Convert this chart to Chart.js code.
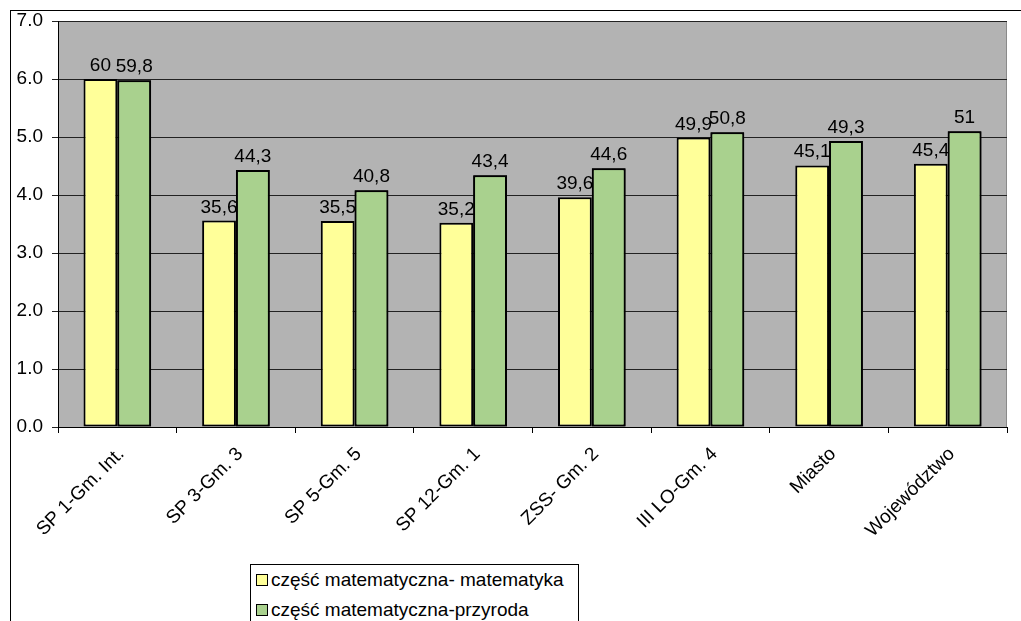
<!DOCTYPE html>
<html>
<head>
<meta charset="utf-8">
<script src="https://cdn.jsdelivr.net/npm/chart.js@4"></script>
<style>
  html, body { margin: 0; padding: 0; background: #fff; }
  #wrap { position: relative; width: 1021px; height: 621px; overflow: hidden; }
  #frame { position: absolute; left: 10px; top: 10px; right: -5px; bottom: -5px; border-left: 1px solid #000; border-top: 1px solid #000; }
  #box { position: absolute; left: 0; top: 0; width: 1021px; height: 621px; }
  #legend { position: absolute; left: 250px; top: 564px; width: 327px; height: 80px; border: 1px solid #000; background: #fff;
            font-family: "Liberation Sans", Arial, sans-serif; font-size: 19px; color: #000; }
  .item { position: absolute; left: 5px; white-space: nowrap; }
  .sw { display: inline-block; width: 10px; height: 10px; border: 1px solid #000; margin-right: 3px; vertical-align: 0px; }
</style>
</head>
<body>
<div id="wrap">
  <div id="frame"></div>
  <div id="box"><canvas id="c"></canvas></div>
  <div id="legend"></div>
</div>
<script>
const categories = ["SP 1-Gm. Int.", "SP 3-Gm. 3", "SP 5-Gm. 5", "SP 12-Gm. 1", "ZSS- Gm. 2", "III LO-Gm. 4", "Miasto", "Województwo"];
const seriesNames = ["część matematyczna- matematyka", "część matematyczna-przyroda"];
const mathValues = [60, 35.6, 35.5, 35.2, 39.6, 49.9, 45.1, 45.4];
const natureValues = [59.8, 44.3, 40.8, 43.4, 44.6, 50.8, 49.3, 51];
const yTicks = [0, 10, 20, 30, 40, 50, 60, 70];
const colors = ["#FFFF99", "#A9D18E"];

const FONT = "'Liberation Sans', Arial, sans-serif";

const bgPlugin = {
  id: 'bg',
  beforeDraw(chart) {
    const {ctx, chartArea: a} = chart;
    ctx.save();
    ctx.fillStyle = '#b3b3b3';
    ctx.fillRect(a.left, a.top, a.right - a.left, a.bottom - a.top);
    ctx.strokeStyle = '#8a8a8a';
    ctx.lineWidth = 1;
    ctx.strokeRect(a.left + 0.5, a.top + 0.5, a.right - a.left - 1, a.bottom - a.top);
    ctx.restore();
    // nudge rotated category labels to sit like the original
    const items = chart.scales.x.getLabelItems();
    items.forEach(it => {
      if (!it._nudged) { it.options.translation[0] += 4; it.options.translation[1] += 8; it._nudged = true; }
    });
  }
};

function fmt(v) { return String(v).replace('.', ','); }

const labelPlugin = {
  id: 'vlabels',
  afterDatasetsDraw(chart) {
    const ctx = chart.ctx;
    const setFont = () => {
      ctx.font = "19px " + FONT;
      ctx.fillStyle = '#000';
      ctx.textAlign = 'center';
      ctx.textBaseline = 'alphabetic';
    };
    ctx.save();
    setFont();
    const m0 = chart.getDatasetMeta(0), m1 = chart.getDatasetMeta(1);
    m0.data.forEach((bar, i) => {
      ctx.fillText(fmt(chart.data.datasets[0].data[i]), bar.x, bar.y - 8);
    });
    // redraw second series bars over first-series labels, as in the original
    m1.data.forEach(bar => bar.draw(ctx));
    setFont();
    m1.data.forEach((bar, i) => {
      ctx.fillText(fmt(chart.data.datasets[1].data[i]), bar.x, bar.y - 8);
    });
    ctx.restore();
  }
};

new Chart(document.getElementById('c'), {
  type: 'bar',
  data: {
    labels: categories,
    datasets: [
      { label: seriesNames[0], data: mathValues, backgroundColor: colors[0], borderColor: '#000', borderWidth: 2, borderSkipped: false },
      { label: seriesNames[1], data: natureValues, backgroundColor: colors[1], borderColor: '#000', borderWidth: 2, borderSkipped: false }
    ]
  },
  options: {
    responsive: true,
    maintainAspectRatio: false,
    animation: false,
    devicePixelRatio: 1,
    layout: { padding: { left: 0, right: 14, top: 21, bottom: 0 } },
    datasets: { bar: { categoryPercentage: 0.57, barPercentage: 1.0 } },
    plugins: { legend: { display: false }, tooltip: { enabled: false } },
    scales: {
      x: {
        grid: { drawOnChartArea: false, drawTicks: true, tickLength: 6, color: '#000', offset: true },
        border: { color: '#000', width: 1 },
        ticks: { color: '#000', font: { family: FONT, size: 19 }, minRotation: 45, maxRotation: 45, padding: 2, autoSkip: false },
        afterFit(s) { s.height = 194; }
      },
      y: {
        min: 0, max: 70,
        afterBuildTicks(s) { s.ticks = yTicks.map(v => ({ value: v })); },
        grid: { color: '#222', lineWidth: 1, tickLength: 6, drawTicks: true },
        border: { color: '#000', width: 1 },
        ticks: { color: '#000', font: { family: FONT, size: 19 }, padding: 9, callback: v => (v / 10).toFixed(1) },
        afterFit(s) { s.width = 58; }
      }
    }
  },
  plugins: [bgPlugin, labelPlugin]
});

const lg = document.getElementById('legend');
seriesNames.forEach((n, i) => {
  const d = document.createElement('div');
  d.className = 'item';
  d.style.top = (4 + i * 30) + 'px';
  d.innerHTML = '<span class="sw" style="background:' + colors[i] + '"></span>';
  d.appendChild(document.createTextNode(n));
  lg.appendChild(d);
});
</script>
</body>
</html>
